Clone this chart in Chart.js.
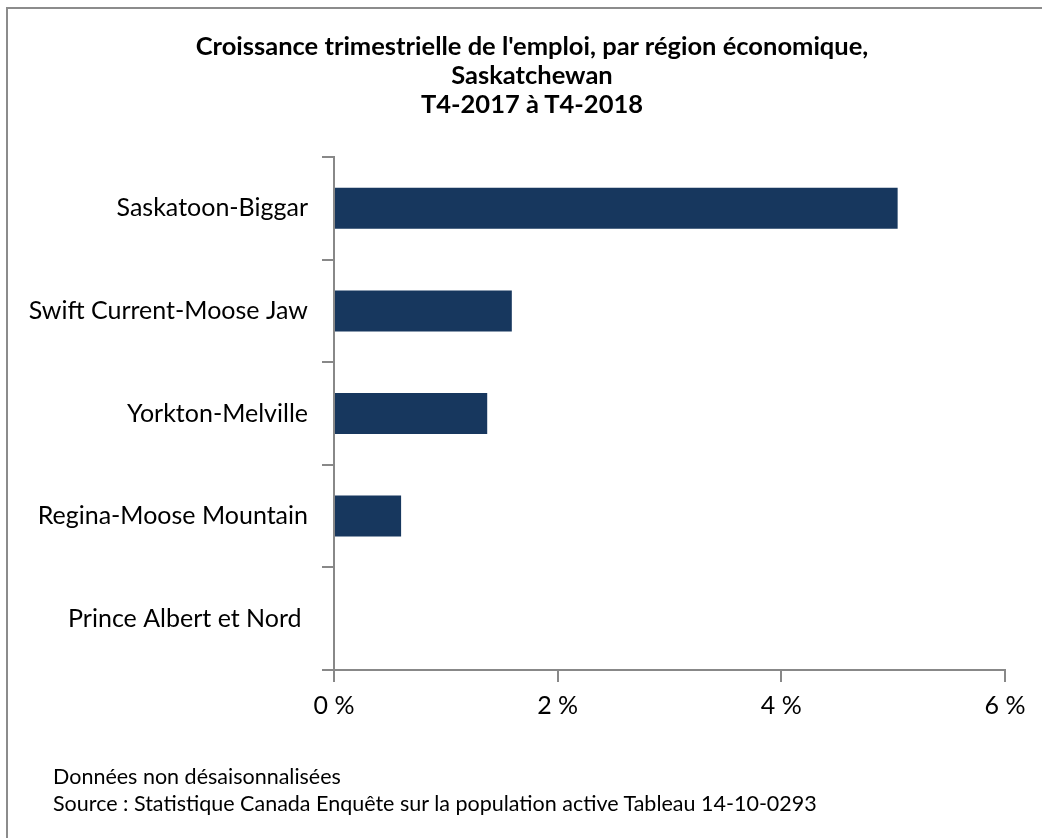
<!DOCTYPE html>
<html lang="fr">
<head>
<meta charset="utf-8">
<script src="https://cdn.jsdelivr.net/npm/chart.js@4/dist/chart.umd.min.js"></script>
<style>
  html, body { margin: 0; padding: 0; background: #fff; }
  .frame {
    position: absolute; left: 6px; top: 7px; width: 1040px; height: 835px;
    border-top: 2px solid #8c8c8c; border-left: 2px solid #8c8c8c;
  }
  .wrap { position: absolute; left: 8px; top: 9px; width: 1034px; height: 829px; }
  .title {
    position: absolute; left: 0; top: 31px; width: 1064px; text-align: center;
    font-family: Lato, sans-serif; font-weight: bold; font-size: 25.5px; line-height: 29px; color: #000;
    white-space: nowrap;
  }
  .note {
    position: absolute; left: 53px; top: 763px;
    font-family: Lato, sans-serif; font-size: 21.5px; line-height: 27px; color: #000;
    white-space: nowrap;
  }
</style>
</head>
<body>
<div class="frame"></div>
<div class="wrap"><canvas id="chart"></canvas></div>
<div class="title" id="title"></div>
<div class="note">Données non désaisonnalisées<br>Source : Statistique Canada Enquête sur la population active Tableau 14-10-0293</div>
<script>
const regions = ['Saskatoon-Biggar', 'Swift Current-Moose Jaw', 'Yorkton-Melville', 'Regina-Moose Mountain', 'Prince Albert et Nord '];
const growth = [5.04, 1.59, 1.37, 0.60, 0];
const titleLines = ["Croissance trimestrielle de l'emploi, par région économique,", 'Saskatchewan', 'T4-2017 à T4-2018'];

(function () {
  const axisGrey = '#888888';
  const font = 'Lato, sans-serif';

  const titleEl = document.getElementById('title');
  titleLines.forEach((line, i) => {
    if (i) titleEl.appendChild(document.createElement('br'));
    titleEl.appendChild(document.createTextNode(line));
  });

  new Chart(document.getElementById('chart'), {
    type: 'bar',
    data: {
      labels: regions,
      datasets: [{
        data: growth,
        backgroundColor: '#17375e',
        barPercentage: 0.8,
        categoryPercentage: 0.5
      }]
    },
    options: {
      indexAxis: 'y',
      responsive: true,
      maintainAspectRatio: false,
      animation: false,
      layout: { padding: { top: 148, left: 4, right: 37, bottom: 108 } },
      plugins: {
        legend: { display: false },
        tooltip: { enabled: false },
        title: { display: false }
      },
      scales: {
        x: {
          min: 0,
          max: 6,
          ticks: {
            stepSize: 2,
            color: '#000',
            padding: 9,
            font: { family: font, size: 25 },
            callback: v => `${v} %`
          },
          grid: { drawOnChartArea: false, tickLength: 12, color: axisGrey, lineWidth: 2 },
          border: { color: axisGrey, width: 2 },
          afterFit: scale => { scale.height = 60; }
        },
        y: {
          ticks: {
            color: '#000',
            padding: 14,
            font: { family: font, size: 25 }
          },
          grid: { drawOnChartArea: false, offset: true, tickLength: 12, color: axisGrey, lineWidth: 2 },
          border: { color: axisGrey, width: 2 },
          afterFit: scale => { scale.width = 322; }
        }
      }
    }
  });
})();
</script>
</body>
</html>
